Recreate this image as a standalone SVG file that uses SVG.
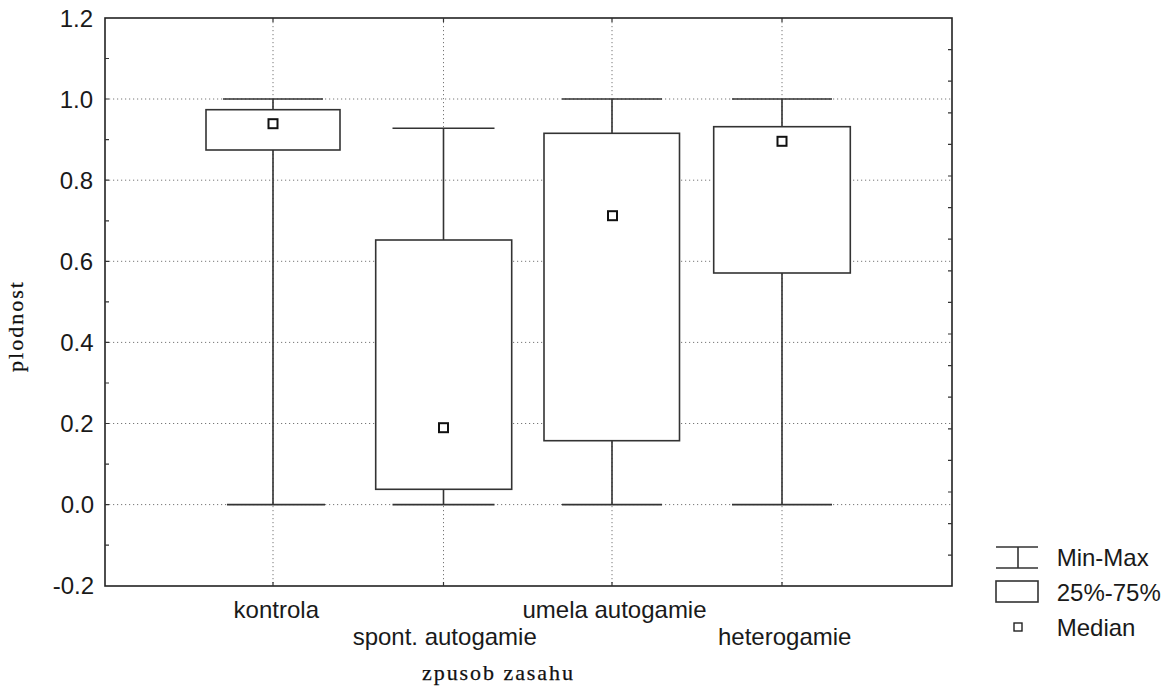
<svg xmlns="http://www.w3.org/2000/svg" width="1174" height="695" viewBox="0 0 1174 695">
<style>
.grid{stroke:#777;stroke-width:1;stroke-dasharray:1.2 2.8;fill:none}
.frame{stroke:#222;stroke-width:1.6;fill:none}
.tick{stroke:#333;stroke-width:1.2}
.wh{stroke:#333;stroke-width:1.6;fill:none}
.box{stroke:#333;stroke-width:1.6;fill:#fff}
.med{stroke:#111;stroke-width:2;fill:#fff}
.lab{font-family:"Liberation Sans",Arial,sans-serif;font-size:24px;fill:#1a1a1a}
.ser{font-family:"Liberation Serif","Times New Roman",serif;font-size:22px;fill:#111;stroke:#111;stroke-width:0.25}
</style>
<rect width="1174" height="695" fill="#fff"/>
<g id="grid">
<line class="grid" x1="105" y1="99" x2="952" y2="99"/>
<line class="grid" x1="105" y1="180.2" x2="952" y2="180.2"/>
<line class="grid" x1="105" y1="261.3" x2="952" y2="261.3"/>
<line class="grid" x1="105" y1="342.4" x2="952" y2="342.4"/>
<line class="grid" x1="105" y1="423.5" x2="952" y2="423.5"/>
<line class="grid" x1="105" y1="504.6" x2="952" y2="504.6"/>
<line class="grid" x1="273" y1="18" x2="273" y2="586"/>
<line class="grid" x1="443.5" y1="18" x2="443.5" y2="586"/>
<line class="grid" x1="612" y1="18" x2="612" y2="586"/>
<line class="grid" x1="782" y1="18" x2="782" y2="586"/>
</g>
<g id="axes">
<rect class="frame" x="105" y="18" width="847" height="568"/>
<path class="tick" d="M105 58.5h4M105 139.7h4M105 220.8h4M105 301.9h4M105 383h4M105 464.1h4M105 545.2h4M105 99h4M105 180.2h4M105 261.3h4M105 342.4h4M105 423.5h4M105 504.6h4"/>
<path class="tick" d="M952 49.6h-4M952 81.2h-4M952 112.8h-4M952 144.4h-4M952 176h-4M952 207.6h-4M952 239.2h-4M952 270.8h-4M952 302.4h-4M952 334h-4M952 365.6h-4M952 397.2h-4M952 428.8h-4M952 460.4h-4M952 492h-4M952 523.6h-4M952 555.2h-4"/>
<path class="tick" d="M273 586v-4M443.5 586v-4M612 586v-4M782 586v-4M273 18v4M443.5 18v4M612 18v4M782 18v4"/>
<g class="lab" text-anchor="end">
<text x="93" y="26.6">1.2</text>
<text x="93" y="107.6">1.0</text>
<text x="93" y="188.8">0.8</text>
<text x="93" y="269.9">0.6</text>
<text x="93.5" y="351">0.4</text>
<text x="93.5" y="432.1">0.2</text>
<text x="94" y="513.2">0.0</text>
<text x="94" y="594.3">-0.2</text>
</g>
<g class="lab" text-anchor="middle">
<text x="276.3" y="618">kontrola</text>
<text x="444.7" y="645">spont. autogamie</text>
<text x="614.5" y="617.5">umela autogamie</text>
<text x="784.7" y="645">heterogamie</text>
</g>
<text class="ser" x="497.5" y="680" text-anchor="middle" textLength="151" lengthAdjust="spacing">zpusob zasahu</text>
<text class="ser" transform="translate(23 327) rotate(-90)" text-anchor="middle" textLength="90" lengthAdjust="spacing">plodnost</text>
</g>
<g id="kontrola">
<path class="wh" d="M223 99h100M273 99v10.7M273 150v354.6M227 504.6h98"/>
<rect class="box" x="206" y="109.7" width="134" height="40.3"/>
<rect class="med" x="268.5" y="119.2" width="9" height="9"/>
</g>
<g id="spont-autogamie">
<path class="wh" d="M392.5 128.3h102M443.5 128.3v111.7M443.5 489.3v15.3M392.5 504.6h102"/>
<rect class="box" x="375.7" y="240" width="136" height="249.3"/>
<rect class="med" x="439" y="423.2" width="9" height="9"/>
</g>
<g id="umela-autogamie">
<path class="wh" d="M562 99h100M612 99v34.3M612 440.7v63.9M562 504.6h100"/>
<rect class="box" x="544" y="133.3" width="135.5" height="307.4"/>
<rect class="med" x="608" y="211.2" width="9" height="9"/>
</g>
<g id="heterogamie">
<path class="wh" d="M732 99h100M782 99v27.7M782 273v231.6M732 504.6h100"/>
<rect class="box" x="713.7" y="126.7" width="136.6" height="146.3"/>
<rect class="med" x="777.5" y="136.8" width="9" height="9"/>
</g>
<g id="legend">
<path class="wh" d="M996 547h42M996 568h42M1018 547v21"/>
<rect class="box" x="996" y="581" width="42" height="21" stroke-width="1.3"/>
<rect x="1014" y="623" width="8" height="8" fill="#fff" stroke="#222" stroke-width="1.4"/>
<text class="lab" x="1056.7" y="566">Min-Max</text>
<text class="lab" x="1056.7" y="601">25%-75%</text>
<text class="lab" x="1056.7" y="636">Median</text>
</g>
</svg>
